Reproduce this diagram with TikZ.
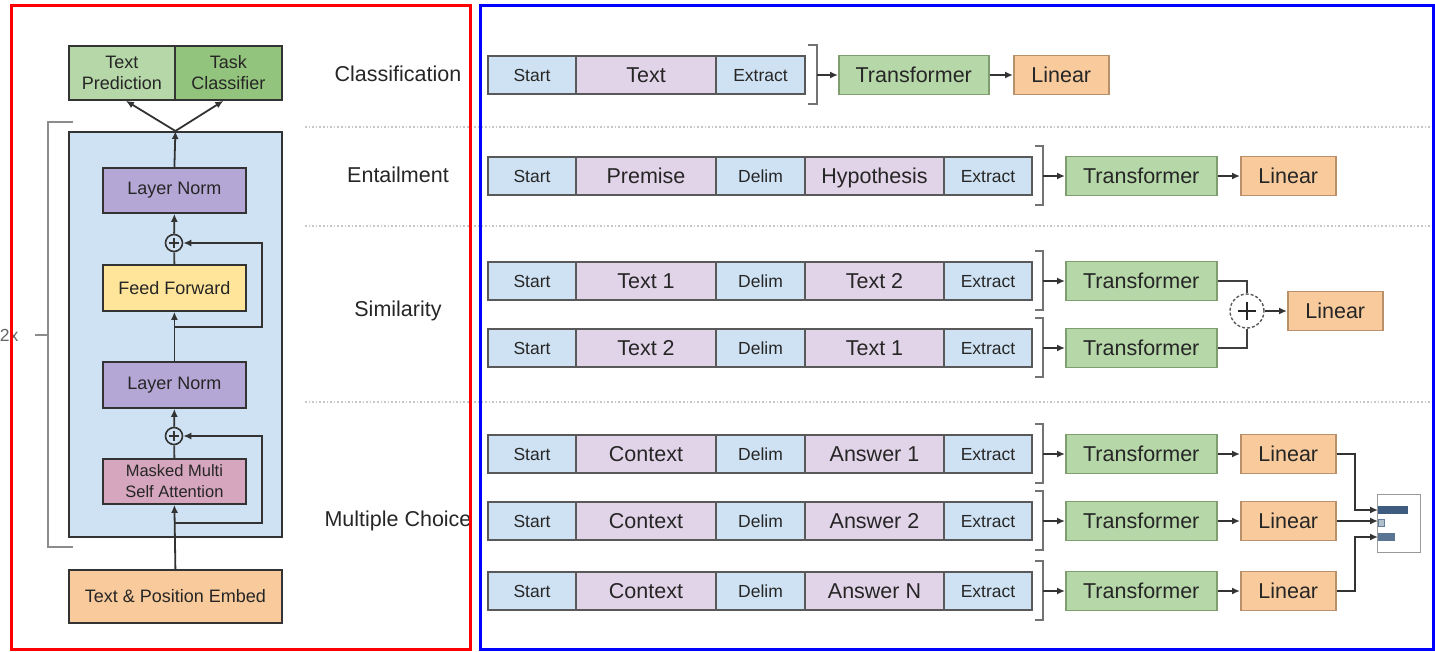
\documentclass[tikz,border=0pt]{standalone}
\usepackage{fontspec}
\setmainfont{Liberation Sans}
\usetikzlibrary{arrows.meta}
\definecolor{cellblue}{HTML}{CFE2F3}
\definecolor{celllav}{HTML}{E2D4E8}
\definecolor{trgreen}{HTML}{B6D7A8}
\definecolor{trgreenline}{HTML}{7E9E70}
\definecolor{linorange}{HTML}{F9CB9C}
\definecolor{linline}{HTML}{B8906A}
\definecolor{blockblue}{HTML}{CFE2F3}
\definecolor{lnpurple}{HTML}{B4A7D6}
\definecolor{ffyellow}{HTML}{FFE599}
\definecolor{msapink}{HTML}{D5A6BD}
\definecolor{outlight}{HTML}{B6D7A8}
\definecolor{outdark}{HTML}{93C47D}
\definecolor{barblue}{HTML}{3D5C80}
\newcommand\lpfont{\fontsize{18}{21}\selectfont}
\newcommand\bigfont{\fontsize{21.5}{24}\selectfont}
\newcommand\smallfont{\fontsize{17.5}{20}\selectfont}
\begin{document}
\begin{tikzpicture}[x=1pt,y=-1pt,
  every node/.style={text=black!85},
  box/.style={draw=black!80, line width=1.8pt, inner sep=0pt, align=center, anchor=north west, font=\lpfont},
  cell/.style={draw=black!65, line width=1.4pt, inner sep=0pt, outer sep=0pt, minimum height=38pt, anchor=west},
  bcell/.style={cell, fill=cellblue, font=\smallfont, text height=12.6pt, text depth=0pt},
  pcell/.style={cell, fill=celllav, font=\bigfont, text height=15.5pt, text depth=0pt},
  trf/.style={draw=trgreenline, fill=trgreen, line width=1.5pt, inner sep=0pt, minimum width=151pt, minimum height=39pt, anchor=west, font=\bigfont},
  lin/.style={draw=linline, fill=linorange, line width=1.5pt, inner sep=0pt, minimum width=95pt, minimum height=39pt, anchor=west, font=\bigfont},
  arr/.style={-{Latex[length=8pt,width=7pt]}, line width=1.8pt, draw=black!80},
  wire/.style={line width=1.8pt, draw=black!75},
  brk/.style={line width=1.5pt, draw=black!55},
  sep/.style={dotted, line width=1.6pt, draw=black!22},
  plus/.style={circle, draw=black!80, line width=1.6pt, minimum size=17pt, inner sep=0pt}
]
\useasboundingbox (0,0) rectangle (1435,651);

% dotted separators between the tasks
\draw[sep] (305,127) -- (1435,127);
\draw[sep] (305,226) -- (1435,226);
\draw[sep] (305,402) -- (1435,402);

% ---------- decoder stack ----------
\node[box, fill=outlight, minimum width=106pt, minimum height=54pt] (tp) at (68,45) {Text\\Prediction};
\node[box, fill=outdark, minimum width=107pt, minimum height=54pt] (tc) at (174,45) {Task\\Classifier};
\node[box, fill=blockblue, minimum width=213pt, minimum height=405pt] (blk) at (68,131) {};
\node[box, fill=lnpurple, minimum width=143pt, minimum height=45pt] (ln1) at (102,167) {Layer Norm};
\node[box, fill=ffyellow, minimum width=143pt, minimum height=46pt] (ff) at (102,264) {Feed Forward};
\node[box, fill=lnpurple, minimum width=143pt, minimum height=46pt] (ln2) at (102,361) {Layer Norm};
\node[box, fill=msapink, minimum width=143pt, minimum height=45pt, font=\fontsize{16.5}{21}\selectfont] (msa) at (102,458) {Masked Multi\\Self Attention};
\node[box, fill=linorange, minimum width=213pt, minimum height=53pt] (emb) at (68,569) {Text \& Position Embed};
\node[plus] (p1) at (174,243) {};
\node[plus] (p2) at (174,436) {};
\foreach \p in {p1,p2} {
  \draw[line width=1.5pt, black!80] (\p.center) +(-5,0) -- +(5,0) (\p.center) +(0,-5) -- +(0,5);
}
\coordinate (r1) at (174,327);
\coordinate (r2) at (174,523);

\draw[arr] (emb.north) -- (msa.south);
\draw[arr] (r2) -- (262,523) |- (p2);
\draw[wire] (msa.north) -- (p2);
\draw[arr] (p2) -- (ln2.south);
\draw[arr] (ln2.north) -- (ff.south);
\draw[arr] (r1) -- (262,327) |- (p1);
\draw[wire] (ff.north) -- (p1);
\draw[arr] (p1) -- (ln1.south);
\draw[arr] (ln1.north) -- (blk.north);
\draw[arr] (blk.north) -- ([xshift=4pt]tp.south);
\draw[arr] (blk.north) -- ([xshift=-5pt]tc.south);

% repetition bracket
\draw[brk, black!45] (73,122) -- (48,122) -- (48,547) -- (73,547);
\draw[brk, black!45] (35,335) -- (48,335);
\node[anchor=east, font=\smallfont, text=black!60] (rep) at (22,335) {12x};

% ---------- task labels ----------
\node[font=\bigfont] (lcls) at (398,74) {Classification};
\node[font=\bigfont] (lent) at (398,175) {Entailment};
\node[font=\bigfont] (lsim) at (398,311) {Similarity};
\node[font=\bigfont] (lmc) at (398,521) {Multiple Choice};

% ---------- classification ----------
\node[bcell, minimum width=88pt] (c-a) at (488,75) {Start};
\node[pcell, minimum width=140pt] (c-b) at (c-a.east) {Text};
\node[bcell, minimum width=89pt] (c-c) at (c-b.east) {Extract};
\draw[brk] (808,45) -- (817,45) -- (817,104) -- (808,104);
\coordinate (k-c) at (817,75);
\node[trf, minimum width=150pt] (t-c) at (838,75) {Transformer};
\node[lin] (l-c) at (1013,75) {Linear};
\draw[arr] (k-c) -- (t-c);
\draw[arr] (t-c) -- (l-c);

% ---------- five-part input sequences ----------
\foreach \n/\y/\a/\b in {e/176/Premise/Hypothesis, s1/281/Text 1/Text 2, s2/348/Text 2/Text 1,
                         m1/454/Context/Answer 1, m2/521/Context/Answer 2, m3/591/Context/Answer N} {
  \node[bcell, minimum width=88pt] (\n-a) at (488,\y) {Start};
  \node[pcell, minimum width=140pt] (\n-b) at (\n-a.east) {\a};
  \node[bcell, minimum width=89pt] (\n-c) at (\n-b.east) {Delim};
  \node[pcell, minimum width=139pt] (\n-d) at (\n-c.east) {\b};
  \node[bcell, minimum width=88pt] (\n-e) at (\n-d.east) {Extract};
  \draw[brk] (1035,\y-30) -- (1043,\y-30) -- (1043,\y+29) -- (1035,\y+29);
  \coordinate (k-\n) at (1043,\y);
  \node[trf] (t-\n) at (1065,\y) {Transformer};
  \draw[arr] (k-\n) -- (t-\n);
}

% entailment head
\node[lin] (l-e) at (1240,176) {Linear};
\draw[arr] (t-e) -- (l-e);

% similarity head
\node[circle, draw=black!65, densely dashed, line width=1.4pt, minimum size=34pt, inner sep=0pt] (sp) at (1247,311) {};
\draw[line width=2.4pt, black!85] (sp.center) +(-9,0) -- +(9,0) (sp.center) +(0,-9) -- +(0,9);
\node[lin] (l-s) at (1287,311) {Linear};
\draw[wire] (t-s1.east) -| (sp.north);
\draw[wire] (t-s2.east) -| (sp.south);
\draw[arr] (sp) -- (l-s);

% multiple choice heads
\foreach \n/\y in {m1/454, m2/521, m3/591} {
  \node[lin] (l-\n) at (1240,\y) {Linear};
  \draw[arr] (t-\n) -- (l-\n);
}
\node[draw=black!40, line width=1.4pt, fill=white, minimum width=43pt, minimum height=58pt, anchor=north west, inner sep=0pt] (res) at (1377,494) {};
\fill[barblue] (1378,506) rectangle (1408,514);
\draw[barblue!80, line width=1pt, fill=barblue!40] (1378,519) rectangle (1384,526);
\fill[barblue!85] (1378,533) rectangle (1395,541);
\coordinate (e1) at (1378,510);
\coordinate (e2) at (1378,521);
\coordinate (e3) at (1378,537);
\draw[arr] (l-m1.east) -| (1355,510) -- (e1);
\draw[arr] (l-m2.east) -- (e2);
\draw[arr] (l-m3.east) -| (1355,537) -- (e3);

% panel frames
\draw[red, line width=3pt] (11,5) rectangle (470,649);
\draw[blue, line width=3pt] (480,5) rectangle (1433,649);
\end{tikzpicture}
\end{document}
